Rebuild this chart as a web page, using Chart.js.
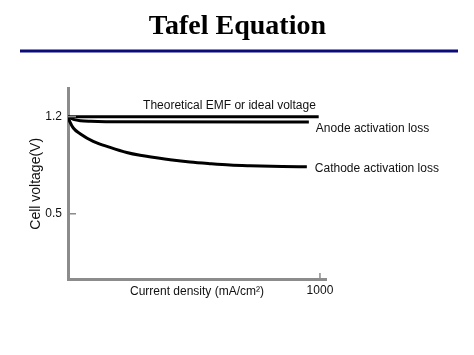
<!DOCTYPE html>
<html>
<head>
<meta charset="utf-8">
<script src="https://cdn.jsdelivr.net/npm/chart.js@4/dist/chart.umd.min.js"></script>
<style>
  html, body { margin: 0; padding: 0; background: #fff; }
  #wrap { width: 474px; height: 355px; }
</style>
</head>
<body>
<div id="wrap"><canvas id="tafel"></canvas></div>
<script>
// Valores
const theoryX = [0, 995];
const theoryY = [1.2, 1.2];
const anodeX = [0, 10, 25, 50, 90, 150, 956];
const anodeY = [1.2, 1.19, 1.178, 1.17, 1.166, 1.164, 1.162];
const cathodeX = [0, 8, 21, 48, 100, 167, 233, 286, 405, 484, 563, 643, 722, 850, 948];
const cathodeY = [1.2, 1.16, 1.118, 1.077, 1.022, 0.978, 0.941, 0.921, 0.890, 0.873, 0.861, 0.851, 0.846, 0.841, 0.839];
const yTicks = [1.2, 0.5];
const xTicks = [1000];
const curveLabels = ['Theoretical EMF or ideal voltage', 'Anode activation loss', 'Cathode activation loss'];

const sans = 'Liberation Sans, Arial, sans-serif';
const axisGray = '#8c8c8c';

function pts(xs, ys) {
    return xs.map((x, i) => ({ x: x, y: ys[i] }));
}

// Marcas internas dos eixos, linha azul do título e rótulos das curvas
const decorPlugin = {
    id: 'decor',
    afterDraw(chart) {
        const ctx = chart.ctx;
        const xs = chart.scales.x;
        const ys = chart.scales.y;
        const area = chart.chartArea;
        ctx.save();

        // linha azul sob o título
        ctx.strokeStyle = '#0b0b7a';
        ctx.lineWidth = 3;
        ctx.beginPath();
        ctx.moveTo(20, 51);
        ctx.lineTo(458, 51);
        ctx.stroke();

        // marcas dos eixos (para dentro)
        ctx.strokeStyle = axisGray;
        ctx.lineWidth = 1.5;
        yTicks.forEach(v => {
            const py = ys.getPixelForValue(v);
            ctx.beginPath();
            ctx.moveTo(area.left, py);
            ctx.lineTo(area.left + 8, py);
            ctx.stroke();
        });
        xTicks.forEach(v => {
            const px = xs.getPixelForValue(v);
            ctx.beginPath();
            ctx.moveTo(px, area.bottom);
            ctx.lineTo(px, area.bottom - 6);
            ctx.stroke();
        });

        // rótulos das curvas
        ctx.fillStyle = '#111';
        ctx.font = '12px ' + sans;
        ctx.textBaseline = 'alphabetic';
        ctx.textAlign = 'left';
        ctx.fillText(curveLabels[0], xs.getPixelForValue(298), ys.getPixelForValue(theoryY[0]) - 8, 176);
        const ax = xs.getPixelForValue(anodeX[anodeX.length - 1]) + 7;
        ctx.fillText(curveLabels[1], ax, ys.getPixelForValue(anodeY[anodeY.length - 1]) + 10);
        const cx = xs.getPixelForValue(cathodeX[cathodeX.length - 1]) + 8;
        ctx.fillText(curveLabels[2], cx, ys.getPixelForValue(cathodeY[cathodeY.length - 1]) + 5);
        ctx.restore();
    }
};

const lineStyle = {
    borderColor: '#000',
    borderWidth: 3,
    pointRadius: 0,
    fill: false,
    cubicInterpolationMode: 'monotone'
};

new Chart(document.getElementById('tafel'), {
    type: 'line',
    data: {
        datasets: [
            Object.assign({ label: curveLabels[0], data: pts(theoryX, theoryY) }, lineStyle),
            Object.assign({ label: curveLabels[1], data: pts(anodeX, anodeY) }, lineStyle),
            Object.assign({ label: curveLabels[2], data: pts(cathodeX, cathodeY) }, lineStyle)
        ]
    },
    options: {
        responsive: true,
        maintainAspectRatio: false,
        animation: false,
        layout: { padding: { left: 0, top: 0, right: 148, bottom: 0 } },
        plugins: {
            legend: { display: false },
            tooltip: { enabled: false },
            title: {
                display: true,
                text: 'Tafel Equation',
                align: 'end',
                color: '#000',
                font: { family: 'Liberation Serif, Times New Roman, serif', size: 28, weight: 'bold' },
                padding: { top: 10, bottom: 45 }
            }
        },
        scales: {
            x: {
                type: 'linear',
                min: 0,
                max: 1024,
                afterBuildTicks: scale => { scale.ticks = xTicks.map(v => ({ value: v })); },
                afterFit: scale => { scale.height = 76; },
                grid: { display: false, drawTicks: false },
                border: { display: true, color: axisGray, width: 3 },
                ticks: {
                    color: '#111',
                    padding: 4,
                    font: { family: sans, size: 12 },
                    callback: v => String(v)
                },
                title: {
                    display: true,
                    text: 'Current density (mA/cm²)',
                    color: '#111',
                    font: { family: sans, size: 12 },
                    padding: { top: 0, bottom: 56 }
                }
            },
            y: {
                type: 'linear',
                min: 0.03,
                max: 1.402,
                afterBuildTicks: scale => { scale.ticks = yTicks.map(v => ({ value: v })); },
                afterFit: scale => { scale.width = 68; },
                grid: { display: false, drawTicks: false },
                border: { display: true, color: axisGray, width: 3 },
                ticks: { color: '#111', padding: 6, font: { family: sans, size: 12 } },
                title: {
                    display: true,
                    text: 'Cell voltage(V)',
                    color: '#111',
                    font: { family: sans, size: 14 },
                    padding: { top: 28, bottom: 0 }
                }
            }
        }
    },
    plugins: [decorPlugin]
});
</script>
</body>
</html>
